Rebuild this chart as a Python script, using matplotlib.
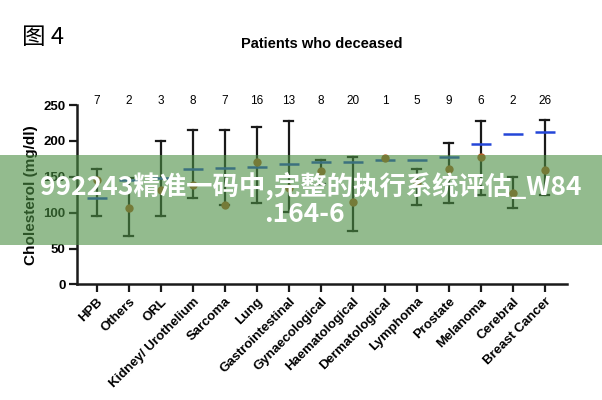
import matplotlib
matplotlib.use("Agg")
import matplotlib.pyplot as plt
import numpy as np
from matplotlib.patches import Rectangle

categories = ["HPB", "Others", "ORL", "Kidney/ Urothelium", "Sarcoma", "Lung",
              "Gastrointestinal", "Gynaecological", "Haematological", "Dermatological",
              "Lymphoma", "Prostate", "Melanoma", "Cerebral", "Breast Cancer"]
counts = [7, 2, 3, 8, 7, 16, 13, 8, 20, 1, 5, 9, 6, 2, 26]
mean_vals = [120, 146, 148, 161, 162, 164, 168, 170, 170, 173, 173, 177, 196, 209, 212]
median_vals = [145, 107, 132, 139, 111, 171, 134, 158, 115, 176, 142, 161, 177, 128, 160]
err_low = [96, 67, 96, 121, 111, 113, 101, 140, 74, np.nan, 111, 114, 125, 106, 125]
err_high = [161, 148, 200, 215, 215, 219, 228, 173, 177, np.nan, 161, 197, 228, 150, 229]
y_ticks = [0, 50, 100, 150, 200, 250]

plt.rcParams['font.family'] = ['Liberation Sans', 'DejaVu Sans']

fig = plt.figure(figsize=(6.02, 4.0), dpi=100)
ax = fig.add_axes([0.1274, 0.289, 0.814, 0.4485])

x = np.arange(len(categories))
for xi, lo, hi in zip(x, err_low, err_high):
    if np.isnan(lo):
        continue
    ax.plot([xi, xi], [lo, hi], color='#1a1a1a', lw=1.6, zorder=2)
    ax.plot([xi - 0.14, xi + 0.14], [lo, lo], color='#1a1a1a', lw=1.6, zorder=2)
    ax.plot([xi - 0.14, xi + 0.14], [hi, hi], color='#1a1a1a', lw=1.6, zorder=2)

ax.hlines(mean_vals, x - 0.31, x + 0.31, color='#2446d8', lw=1.8, zorder=3)
ax.plot(x, median_vals, 'o', color='#b5602a', markersize=6, zorder=4, markeredgewidth=0)

for xi, n in zip(x, counts):
    ax.text(xi, 256, str(n), ha='center', va='center', fontsize=8.5, clip_on=False)

ax.set_xlim(-0.63, 14.68)
ax.set_ylim(0, 250)
ax.set_yticks(y_ticks)
ax.set_yticklabels([str(v) for v in y_ticks], fontsize=9.5, fontweight='bold')
ax.set_xticks(x)
ax.set_xticklabels(categories, rotation=45, ha='right', rotation_mode='anchor',
                   fontsize=9.5, fontweight='bold')
ax.tick_params(axis='both', width=1.6, length=6, color='#1a1a1a', pad=2)
ax.spines['top'].set_visible(False)
ax.spines['right'].set_visible(False)
for s in ['left', 'bottom']:
    ax.spines[s].set_linewidth(1.8)
    ax.spines[s].set_color('#1a1a1a')
ax.set_ylabel("Cholesterol (mg/dl)", fontsize=11, fontweight='bold', labelpad=4)

fig.text(0.535, 0.89, "Patients who deceased", ha='center', va='center',
         fontsize=10.5, fontweight='bold')
fig.text(0.037, 0.907, "图 4", ha='left', va='center', fontsize=17,
         family=['Noto Sans CJK SC', 'DejaVu Sans'])

# watermark band overlay
fig.patches.append(Rectangle((0, (400 - 245) / 400), 1, 90 / 400,
                             transform=fig.transFigure, facecolor='#4b8e43',
                             alpha=0.6, edgecolor='none', zorder=10))
fig.text(0.517, (400 - 186) / 400, "992243精准一码中,完整的执行系统评估_W84",
         ha='center', va='center', fontsize=19, fontweight='bold', color='white',
         family=['Noto Sans CJK SC', 'DejaVu Sans'], zorder=11)
fig.text(0.505, (400 - 214) / 400, ".164-6",
         ha='center', va='center', fontsize=19, fontweight='bold', color='white',
         family=['Noto Sans CJK SC', 'DejaVu Sans'], zorder=11)

fig.savefig("out.png", dpi=100)
